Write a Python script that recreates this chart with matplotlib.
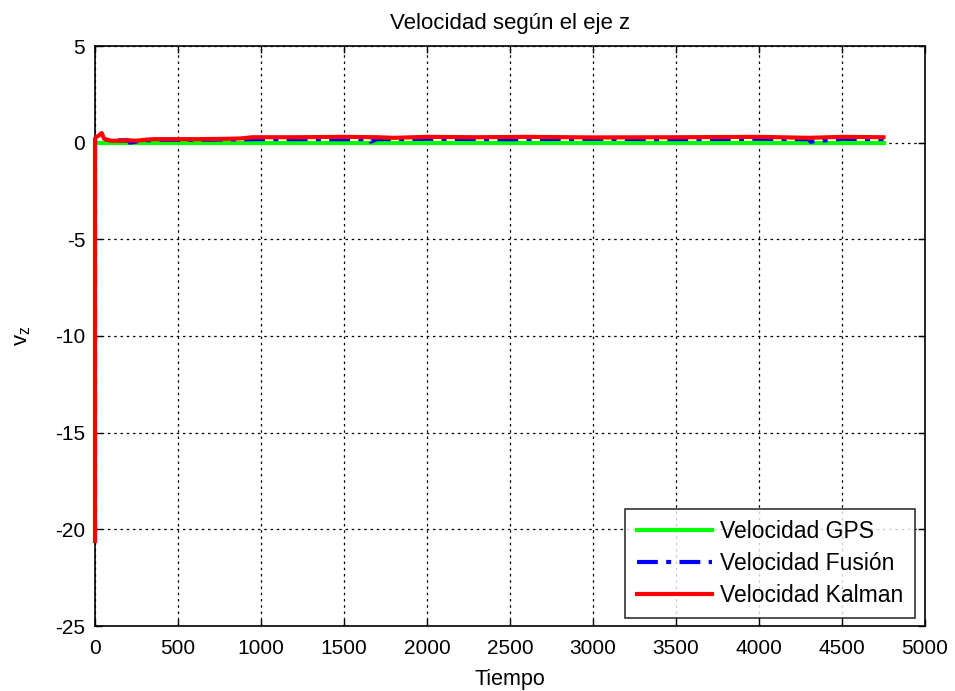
import matplotlib
matplotlib.use("Agg")
import matplotlib.pyplot as plt

plt.rcParams['font.family'] = ['Liberation Sans', 'DejaVu Sans']
plt.rcParams['axes.unicode_minus'] = False

# Data
t_gps = [0, 4750]
v_gps = [0.0, 0.0]

t_fus = [0, 0, 10, 40, 70, 100, 200, 210, 300, 400, 600, 900, 950, 1300, 1650, 1660, 1700, 2000, 2500, 3000, 3500, 4000, 4300, 4310, 4500, 4750]
v_fus = [-20.6, 0.15, 0.2, 0.25, 0.15, 0.12, 0.12, 0.0, 0.12, 0.15, 0.15, 0.17, 0.18, 0.18, 0.18, 0.05, 0.18, 0.2, 0.18, 0.2, 0.18, 0.2, 0.18, 0.05, 0.2, 0.18]

t_kal = [0, 0, 8, 20, 40, 55, 70, 100, 150, 200, 250, 300, 350, 400, 600, 800, 880, 950, 1200, 1500, 1700, 1800, 2000, 2300, 2600, 3000, 3500, 4000, 4300, 4500, 4750]
v_kal = [-20.6, 0.2, 0.3, 0.35, 0.5, 0.2, 0.15, 0.1, 0.1, 0.12, 0.1, 0.15, 0.18, 0.18, 0.18, 0.2, 0.22, 0.28, 0.28, 0.3, 0.28, 0.25, 0.3, 0.28, 0.3, 0.27, 0.28, 0.3, 0.25, 0.3, 0.28]

xticks = [0, 500, 1000, 1500, 2000, 2500, 3000, 3500, 4000, 4500, 5000]
yticks = [-25, -20, -15, -10, -5, 0, 5]

fig = plt.figure(figsize=(9.55, 6.91), dpi=100)
ax = fig.add_axes([95/955, 65/691, 830/955, 580/691])

ax.plot(t_gps, v_gps, color='#00ff00', lw=3, label='Velocidad GPS', zorder=3)
ax.plot(t_fus, v_fus, color='#0000ff', lw=3, linestyle=(0, (5, 2, 1.2, 2)), label='Velocidad Fusión', zorder=3.1)
ax.plot(t_kal, v_kal, color='#ff0000', lw=3, label='Velocidad Kalman', zorder=3.2, clip_on=False)

ax.set_xlim(0, 5000)
ax.set_ylim(-25, 5)
ax.set_xticks(xticks)
ax.set_yticks(yticks)
ax.grid(True, color='black', linestyle=(0, (2, 3)), linewidth=0.9)
ax.tick_params(direction='in', top=True, right=True, labelsize=15, length=5, width=1)
ax.tick_params(axis='x', pad=9)
ax.tick_params(axis='y', pad=7)
for s in ax.spines.values():
    s.set_linewidth(1.2)

ax.set_title('Velocidad según el eje z', fontsize=16, pad=12)
ax.set_xlabel('Tiempo', fontsize=15.5, labelpad=8)
ax.set_ylabel('v$_\\mathregular{z}$', fontsize=16, labelpad=16)

leg = ax.legend(loc='lower right', fontsize=16.5, frameon=True, fancybox=False,
                edgecolor='black', handlelength=3.3, borderpad=0.5, labelspacing=0.38,
                handletextpad=0.35, borderaxespad=0,
                bbox_to_anchor=(0.988, 0.0138))
leg.get_frame().set_linewidth(1.2)

fig.savefig('out.png', dpi=100, facecolor='white')
